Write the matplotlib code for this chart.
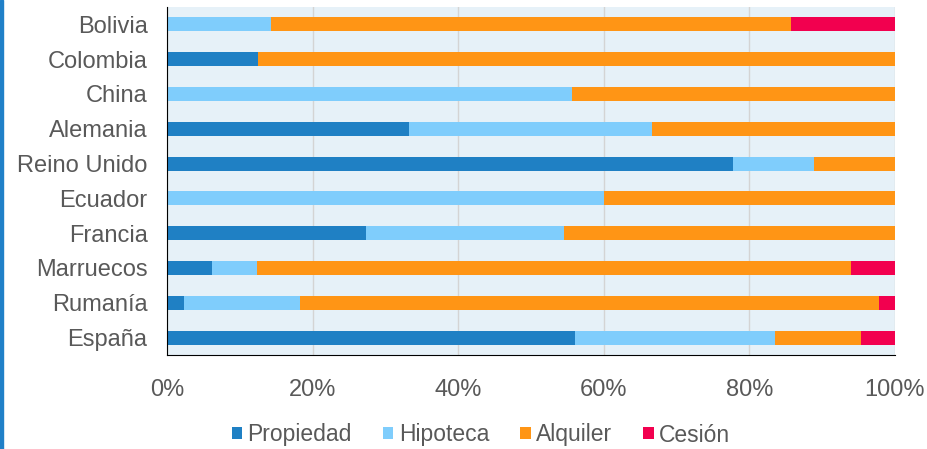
import matplotlib.pyplot as plt
import numpy as np
from matplotlib.patches import Rectangle

plt.rcParams['font.family'] = ['Liberation Sans', 'DejaVu Sans']

countries = ['Bolivia', 'Colombia', 'China', 'Alemania', 'Reino Unido',
             'Ecuador', 'Francia', 'Marruecos', 'Rumanía', 'España']
propiedad = [0.0, 12.5, 0.0, 33.3, 77.8, 0.0, 27.3, 6.2, 2.3, 56.0]
hipoteca = [14.3, 0.0, 55.6, 33.3, 11.1, 60.0, 27.3, 6.1, 16.0, 27.5]
alquiler = [71.4, 87.5, 44.4, 33.4, 11.1, 40.0, 45.4, 81.6, 79.5, 11.8]
cesion = [14.3, 0.0, 0.0, 0.0, 0.0, 0.0, 0.0, 6.1, 2.2, 4.7]

series = [
    ('Propiedad', propiedad, '#1f80c4'),
    ('Hipoteca', hipoteca, '#7fcdfc'),
    ('Alquiler', alquiler, '#ff9515'),
    ('Cesión', cesion, '#f2004f'),
]

fig = plt.figure(figsize=(9.28, 4.49), dpi=100)
ax = fig.add_axes([167 / 928, 1 - 355 / 449, 728 / 928, 348 / 449])
ax.set_facecolor('#e6f1f8')

y = np.arange(len(countries))
left = np.zeros(len(countries))
for name, vals, color in series:
    vals = np.array(vals)
    ax.barh(y, vals, left=left, height=0.4, color=color, label=name,
            edgecolor='none', zorder=3)
    left += vals

ax.set_xlim(0, 100)
ax.set_ylim(len(countries) - 0.5, -0.5)
ax.set_yticks(y)
ax.set_yticklabels(countries)
ax.set_xticks([0, 20, 40, 60, 80, 100])
ax.set_xticklabels(['0%', '20%', '40%', '60%', '80%', '100%'])
ax.tick_params(length=0, labelsize=17, colors='#595959')
ax.tick_params(axis='y', pad=14)
ax.tick_params(axis='x', pad=17)
ax.grid(axis='x', color='#d4d4d4', linewidth=1, zorder=1)
for s in ['top', 'right']:
    ax.spines[s].set_visible(False)
ax.spines['left'].set_color('black')
ax.spines['bottom'].set_color('black')
ax.spines['left'].set_zorder(4)

leg = fig.legend(loc='center', bbox_to_anchor=(481 / 928, 1 - 435 / 449),
                 ncol=4, frameon=False, fontsize=16.5, handlelength=0.45,
                 handleheight=0.45, handletextpad=0.25, columnspacing=1.35)
for t in leg.get_texts():
    t.set_color('#595959')

fig.add_artist(Rectangle((0, 0), 3 / 928, 1, transform=fig.transFigure,
                         color='#2080c8', zorder=10))

fig.savefig('out.png', dpi=100)
